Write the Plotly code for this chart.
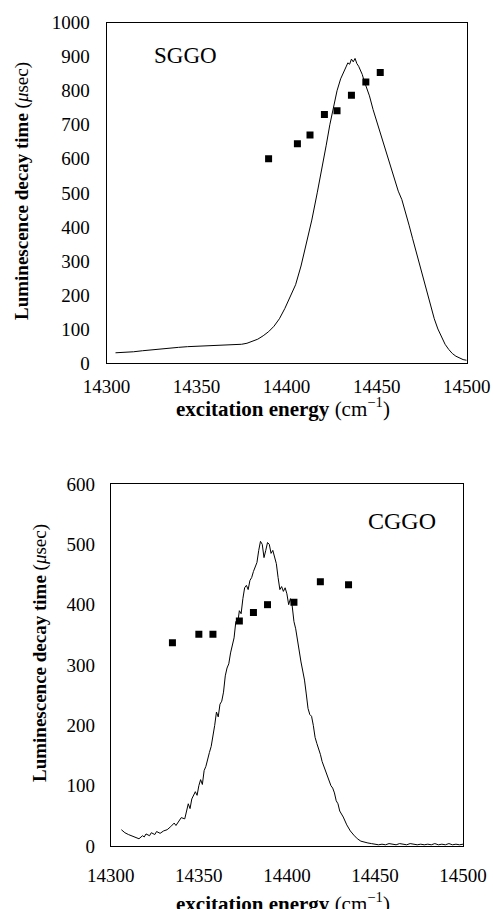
import plotly.graph_objects as go

# ---------------- SGGO (top panel) ----------------
sggo_curve_x = [14305, 14310, 14315, 14320, 14325, 14330, 14335, 14340, 14345, 14350,
                14355, 14360, 14365, 14370, 14375, 14378, 14381, 14384, 14387, 14390,
                14393, 14396, 14399, 14402, 14405, 14408, 14411, 14414, 14417, 14420,
                14422, 14424, 14426, 14428, 14430, 14431, 14432, 14433, 14434, 14435,
                14436, 14437, 14438, 14439, 14440, 14441, 14442, 14443, 14444, 14446,
                14448, 14450, 14452, 14454, 14456, 14458, 14460, 14462, 14464, 14466,
                14468, 14470, 14472, 14474, 14476, 14478, 14480, 14482, 14484, 14486,
                14488, 14490, 14492, 14494, 14496, 14498, 14500]
sggo_curve_y = [30, 31, 33, 36, 39, 42, 44, 46, 48, 49,
                50, 50, 51, 53, 55, 58, 63, 70, 80, 92,
                108, 130, 160, 195, 230, 285, 350, 420, 500, 580,
                640, 700, 755, 800, 835, 848, 862, 870, 882, 878,
                893, 885, 895, 880, 872, 860, 848, 830, 815, 785,
                745, 710, 675, 640, 605, 570, 535, 505, 480, 445,
                405, 365, 325, 285, 245, 205, 165, 130, 100, 75,
                55, 40, 28, 20, 14, 10, 8]
sggo_pts_x = [14390, 14406, 14413, 14421, 14428, 14436, 14444, 14452]
sggo_pts_y = [600, 644, 670, 730, 741, 787, 826, 854]

# ---------------- CGGO (bottom panel) ----------------
cggo_curve_x = [14306, 14308, 14310, 14312, 14314, 14316, 14318, 14319, 14320, 14322,
                14323, 14325, 14326, 14328, 14330, 14332, 14334, 14336, 14337, 14339,
                14340, 14342, 14343, 14344, 14345, 14346, 14348, 14349, 14350, 14351,
                14352, 14353, 14354, 14355, 14356, 14357, 14358, 14359, 14360, 14361,
                14362, 14363, 14364, 14365, 14366, 14367, 14368, 14369, 14370, 14371,
                14372, 14373, 14374, 14375, 14376, 14377, 14378, 14379, 14380, 14381,
                14382, 14383, 14384, 14385, 14386, 14387, 14388, 14389, 14390, 14391,
                14392, 14393, 14394, 14395, 14396, 14397, 14398, 14399, 14400, 14401,
                14402, 14403, 14404, 14405, 14406, 14407, 14408, 14409, 14410, 14411,
                14412, 14413, 14414, 14415, 14416, 14417, 14418, 14419, 14420, 14422,
                14424, 14425, 14426, 14427, 14428, 14429, 14430, 14432, 14434, 14436,
                14438, 14440, 14442, 14444, 14446, 14448, 14450, 14452, 14454, 14456,
                14458, 14460, 14462, 14464, 14466, 14468, 14470, 14472, 14474, 14476,
                14478, 14480, 14482, 14484, 14486, 14488, 14490, 14492, 14494, 14496,
                14498, 14500]
cggo_curve_y = [27, 22, 19, 17, 14, 12, 17, 15, 20, 17,
                22, 19, 24, 21, 25, 27, 32, 38, 34, 42,
                47, 45, 58, 70, 62, 78, 90, 84, 100, 110,
                102, 125, 132, 145, 155, 165, 180, 200, 222, 214,
                235, 240, 255, 282, 295, 302, 320, 335, 345, 372,
                368, 390, 385, 410, 428, 432, 425, 440, 445, 455,
                462, 470, 490, 505, 500, 478, 490, 503, 500, 485,
                490, 478, 468, 445, 425, 430, 422, 428, 418, 400,
                410, 398, 372, 360, 340, 320, 305, 290, 275, 252,
                228, 218, 215, 200, 180, 170, 162, 152, 140, 125,
                110, 100, 96, 88, 75, 70, 58, 48, 35, 25,
                18, 12, 8, 6, 5, 4, 3, 2, 3, 2,
                4, 3, 2, 4, 3, 2, 4, 3, 2, 3,
                2, 3, 2, 4, 2, 3, 2, 4, 2, 3,
                2, 3]
cggo_pts_x = [14335, 14350, 14358, 14373, 14381, 14389, 14404, 14419, 14435]
cggo_pts_y = [337, 351, 351, 373, 387, 400, 404, 438, 433]

x_ticks = [14300, 14350, 14400, 14450, 14500]
y_ticks_top = [0, 100, 200, 300, 400, 500, 600, 700, 800, 900, 1000]
y_ticks_bot = [0, 100, 200, 300, 400, 500, 600]

FONT = "Liberation Serif"
W, H = 493, 909


def px_x(v):
    return v / W


def px_y(v):
    return 1 - v / H


fig = go.Figure()
line_style = dict(color="black", width=1)
mk = dict(symbol="square", size=7, color="black")

fig.add_trace(go.Scatter(x=sggo_curve_x, y=sggo_curve_y, mode="lines", line=line_style,
                         xaxis="x", yaxis="y", showlegend=False))
fig.add_trace(go.Scatter(x=sggo_pts_x, y=sggo_pts_y, mode="markers", marker=mk,
                         xaxis="x", yaxis="y", showlegend=False))
fig.add_trace(go.Scatter(x=cggo_curve_x, y=cggo_curve_y, mode="lines", line=line_style,
                         xaxis="x2", yaxis="y2", showlegend=False))
fig.add_trace(go.Scatter(x=cggo_pts_x, y=cggo_pts_y, mode="markers", marker=mk,
                         xaxis="x2", yaxis="y2", showlegend=False))

tickfont = dict(family=FONT, size=19, color="black")
ax_common = dict(showline=True, linecolor="black", linewidth=1, mirror=True,
                 showgrid=False, zeroline=False, ticks="", tickfont=tickfont,
                 automargin=False, tickformat="d")

fig.update_layout(
    width=W, height=H,
    margin=dict(l=0, r=0, t=0, b=0),
    paper_bgcolor="white", plot_bgcolor="white",
    xaxis=dict(domain=[px_x(106.5), px_x(466.7)], range=[14300, 14500], tickvals=x_ticks,
               anchor="y", ticklabelstandoff=6, **ax_common),
    yaxis=dict(domain=[px_y(363), px_y(22.7)], range=[0, 1000], tickvals=y_ticks_top,
               anchor="x", ticklabelstandoff=12, **ax_common),
    xaxis2=dict(domain=[px_x(110.8), px_x(463)], range=[14300, 14500], tickvals=x_ticks,
                anchor="y2", ticklabelstandoff=12, **ax_common),
    yaxis2=dict(domain=[px_y(846), px_y(484)], range=[0, 600], tickvals=y_ticks_bot,
                anchor="x2", ticklabelstandoff=11, **ax_common),
)

ytitle = "<b>Luminescence decay time</b> (<i>μ</i>sec)"
xtitle = "<b>excitation energy</b> (cm<sup>−1</sup>)"
tfy = dict(family=FONT, size=19, color="black")
tfx = dict(family=FONT, size=21, color="black")

fig.add_annotation(text=ytitle, xref="paper", yref="paper", x=px_x(22), y=px_y(191),
                   textangle=-90, showarrow=False, font=tfy, xanchor="center", yanchor="middle")
fig.add_annotation(text=ytitle, xref="paper", yref="paper", x=px_x(40), y=px_y(653),
                   textangle=-90, showarrow=False, font=tfy, xanchor="center", yanchor="middle")
fig.add_annotation(text=xtitle, xref="paper", yref="paper", x=px_x(283), y=px_y(407),
                   showarrow=False, font=tfx, xanchor="center", yanchor="middle")
fig.add_annotation(text=xtitle, xref="paper", yref="paper", x=px_x(283), y=px_y(902),
                   showarrow=False, font=tfx, xanchor="center", yanchor="middle")

fig.add_annotation(text="SGGO", xref="x", yref="y", x=14325, y=905, showarrow=False,
                   font=dict(family=FONT, size=23, color="black"), xanchor="left", yanchor="middle")
fig.add_annotation(text="CGGO", xref="x2", yref="y2", x=14445, y=539, showarrow=False,
                   font=dict(family=FONT, size=24, color="black"), xanchor="left", yanchor="middle")

# remove the browser's default 8 px page margin so the figure fills the window exactly
fig.write_html("out.html", config={"displayModeBar": False},
               post_script="document.body.style.margin='0';document.body.style.overflow='hidden';")
